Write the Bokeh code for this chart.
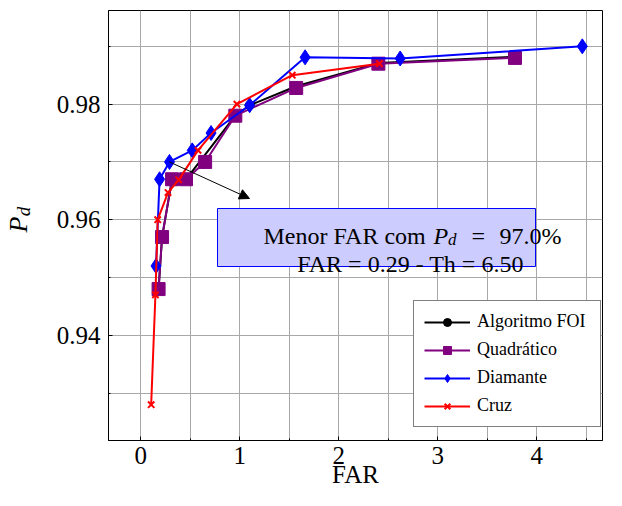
import numpy as np
from bokeh.plotting import figure
from bokeh.layouts import row
from bokeh.models import FixedTicker, Label, BoxAnnotation, Arrow, NormalHead, Range1d
from bokeh.core.properties import value
from bokeh.embed import file_html
from bokeh.resources import INLINE

# ---------------- data ----------------
far_foi = [0.18, 0.215, 0.316, 0.457, 0.955, 1.10, 1.57, 2.40, 3.78]
pd_foi = [0.948, 0.957, 0.967, 0.967, 0.978, 0.9798, 0.9831, 0.9871, 0.9882]

far_quad = [0.18, 0.215, 0.316, 0.457, 0.65, 0.955, 1.57, 2.40, 3.78]
pd_quad = [0.948, 0.957, 0.967, 0.967, 0.970, 0.978, 0.9828, 0.987, 0.988]

far_diam = [0.154, 0.19, 0.29, 0.52, 0.71, 1.10, 1.66, 2.62, 4.46]
pd_diam = [0.952, 0.967, 0.970, 0.972, 0.975, 0.9798, 0.9881, 0.9879, 0.9900]

far_cruz = [0.105, 0.148, 0.171, 0.275, 0.383, 0.578, 0.971, 1.53, 2.41]
pd_cruz = [0.928, 0.947, 0.960, 0.9647, 0.9669, 0.972, 0.980, 0.985, 0.987]

series_names = ["Algoritmo FOI", "Quadrático", "Diamante", "Cruz"]

x_ticks = [0, 1, 2, 3, 4]
x_minor = [0.5, 1.5, 2.5, 3.5, 4.5]
y_ticks = [0.94, 0.96, 0.98]
y_minor = [0.93, 0.95, 0.97, 0.99]

x_label = "FAR"
y_label_main, y_label_sub = "P", "d"
annot_line1 = "Menor FAR com"
annot_eq = "="
annot_val = "97.0%"
annot_line2 = "FAR = 0.29 - Th = 6.50"
best_idx = 2  # Diamante point highlighted by the arrow

# ---------------- layout ----------------
W, H = 606, 490
LEFT_W = 40            # strip holding the y label
MAIN_W = W - LEFT_W
FL, FR, FT, FB = 108, 602, 10, 440     # frame edges in page pixels
X0, X1 = -0.326, 4.664
Y0, Y1 = 0.9218, 0.9962

SERIF = "Liberation Serif"


def dx(cx):
    return X0 + (cx - FL) / (FR - FL) * (X1 - X0)


def dy(cy):
    return Y1 - (cy - FT) / (FB - FT) * (Y1 - Y0)


p = figure(width=MAIN_W, height=H, x_range=Range1d(X0, X1), y_range=Range1d(Y0, Y1),
           output_backend="svg", toolbar_location=None,
           min_border_left=FL - LEFT_W, min_border_right=W - FR,
           min_border_top=FT, min_border_bottom=H - FB)
p.background_fill_color = "white"
p.border_fill_color = "white"
p.outline_line_color = "black"
p.outline_line_width = 1

p.xaxis.ticker = FixedTicker(ticks=x_ticks, minor_ticks=x_minor)
p.yaxis.ticker = FixedTicker(ticks=y_ticks, minor_ticks=y_minor)
p.xgrid.ticker = FixedTicker(ticks=sorted(x_ticks + x_minor))
p.ygrid.ticker = FixedTicker(ticks=sorted(y_ticks + y_minor))
for g in (p.xgrid, p.ygrid):
    g.grid_line_color = "#a8a8a8"
    g.grid_line_width = 1

for ax in (p.xaxis, p.yaxis):
    ax.axis_line_color = "black"
    ax.major_tick_in = 4
    ax.major_tick_out = 0
    ax.minor_tick_in = 2
    ax.minor_tick_out = 0
    ax.major_tick_line_color = "black"
    ax.minor_tick_line_color = "black"
    ax.major_label_text_font = SERIF
    ax.major_label_text_font_size = "25px"
    ax.major_label_text_color = "black"
p.xaxis.major_label_standoff = 6
p.yaxis.major_label_standoff = 8
p.xaxis.axis_label = x_label
p.xaxis.axis_label_text_font = SERIF
p.xaxis.axis_label_text_font_size = "25px"
p.xaxis.axis_label_text_font_style = "normal"
p.xaxis.axis_label_text_color = "black"
p.xaxis.axis_label_standoff = -6

# ---------------- series ----------------
p.line(far_foi, pd_foi, color="black", line_width=2, legend_label=series_names[0])
p.scatter(far_foi, pd_foi, marker="circle", size=9, color="black", legend_label=series_names[0])

p.line(far_quad, pd_quad, color="#800080", line_width=2, legend_label=series_names[1])
p.scatter(far_quad, pd_quad, marker="square", size=13, color="#800080", legend_label=series_names[1])

p.line(far_diam, pd_diam, color="#0000ff", line_width=2, legend_label=series_names[2])
p.scatter(far_diam, pd_diam, marker="diamond", size=15, color="#0000ff", legend_label=series_names[2])

p.line(far_cruz, pd_cruz, color="#ff0000", line_width=2, legend_label=series_names[3])
p.scatter(far_cruz, pd_cruz, marker="x", size=9, line_width=2, color="#ff0000", legend_label=series_names[3])

# ---------------- annotation box + arrow ----------------
box = BoxAnnotation(left=dx(217), right=dx(535), top=dy(208), bottom=dy(266),
                    fill_color="#ccccff", fill_alpha=1.0, line_color="#0000ff", line_width=1,
                    line_alpha=1.0, level="annotation")
p.add_layout(box)

arrow = Arrow(end=NormalHead(size=10, fill_color="black", line_color="black"),
              x_start=far_diam[best_idx], y_start=pd_diam[best_idx],
              x_end=dx(249), y_end=dy(198), line_color="black", line_width=1)
p.add_layout(arrow)


def lab(text, cx, cy, size, style="normal", align="left"):
    p.add_layout(Label(x=dx(cx), y=dy(cy), text=text, text_font=SERIF,
                       text_font_size=f"{size}px", text_font_style=style,
                       text_align=align, text_baseline="alphabetic",
                       text_color="black"))


lab(annot_line1, 263, 235, 24)
lab(y_label_main, 433, 235, 24, style="italic")
lab(y_label_sub, 447.5, 238.5, 17, style="italic")
lab(annot_eq, 471, 235, 24)
lab(annot_val, 499, 235, 24)
lab(annot_line2, 410, 263, 24, align="center")

# ---------------- legend ----------------
lg = p.legend[0]
lg.location = (305, 13)
lg.border_line_color = "black"
lg.border_line_width = 1
lg.background_fill_color = "white"
lg.background_fill_alpha = 1.0
lg.label_text_font = SERIF
lg.label_text_font_size = "18px"
lg.label_text_color = "black"
lg.padding = 10
lg.spacing = 7
lg.glyph_width = 46
lg.glyph_height = 20
lg.label_height = 20
lg.label_width = 113
lg.label_standoff = 7
lg.margin = 0

# ---------------- y label strip (pixel coordinates) ----------------
ylab = figure(width=LEFT_W, height=H, x_range=Range1d(0, LEFT_W), y_range=Range1d(H, 0),
              output_backend="svg", toolbar_location=None, title=None,
              x_axis_location=None, y_axis_location=None,
              min_border_left=0, min_border_right=0, min_border_top=0, min_border_bottom=0)
ylab.grid.visible = False
ylab.outline_line_color = None
ylab.background_fill_color = "white"
ylab.border_fill_color = "white"
ylab.text(x=[18], y=[244], text=[y_label_main], angle=np.pi / 2,
          text_font=value(SERIF), text_font_size=value("26px"), text_font_style="italic",
          text_align="center", text_baseline="middle", text_color="black")
ylab.text(x=[23], y=[229], text=[y_label_sub], angle=np.pi / 2,
          text_font=value(SERIF), text_font_size=value("19px"), text_font_style="italic",
          text_align="center", text_baseline="middle", text_color="black")

layout = row(ylab, p, spacing=0)

open("out.html", "w").write(file_html(layout, INLINE))
